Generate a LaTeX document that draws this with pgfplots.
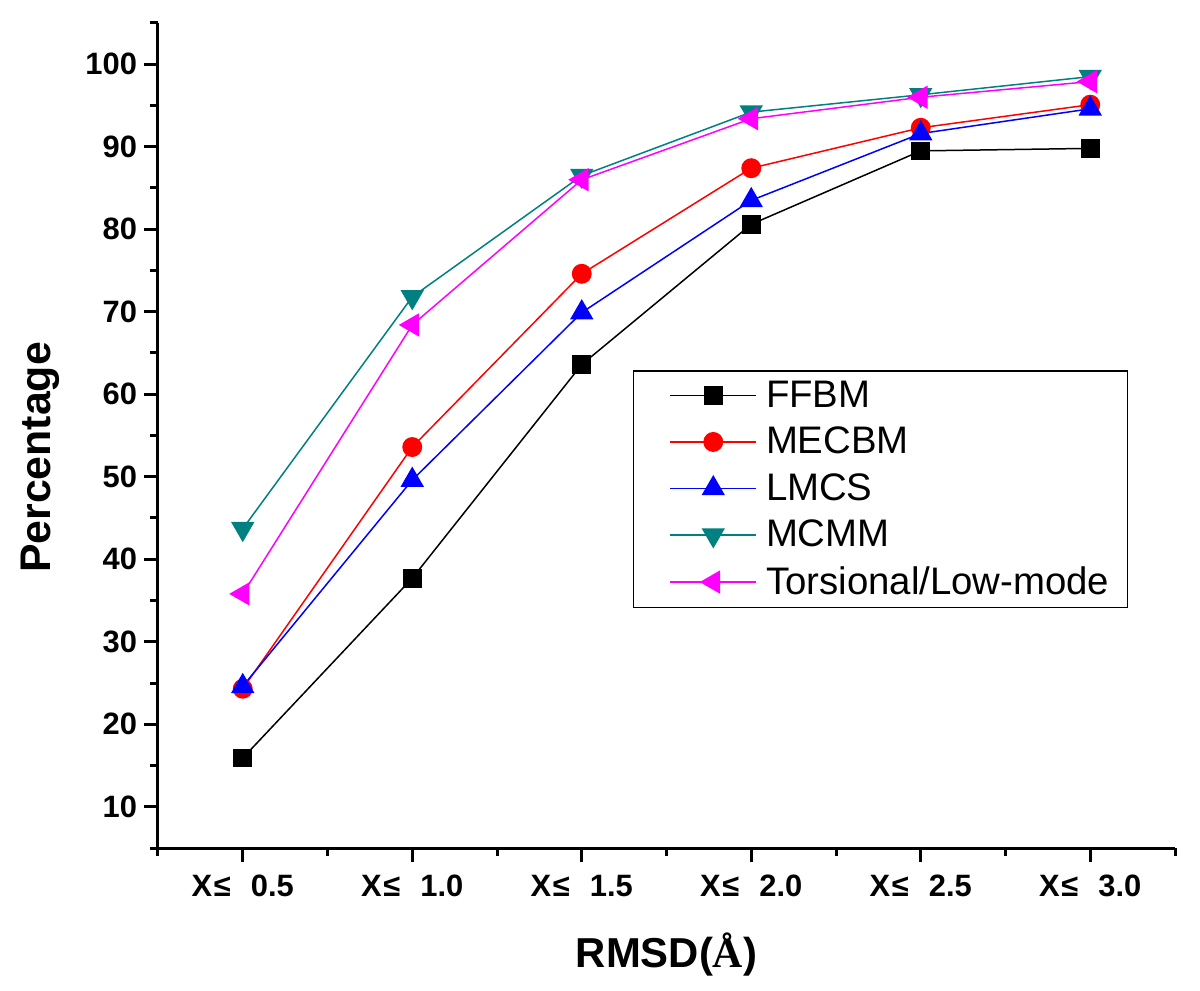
\documentclass[border=0pt]{standalone}
\usepackage{fontspec}
\setmainfont{Liberation Sans}
\newfontfamily\serifA{Liberation Serif}
\usepackage{pgfplots}
\pgfplotsset{compat=1.18}
\definecolor{mteal}{RGB}{0,128,128}
\definecolor{mmag}{RGB}{255,0,255}
\newcommand{\xle}[1]{X\kern0.05em≤\hspace{0.65em}#1}
\begin{document}
\begin{tikzpicture}
\begin{axis}[
  at={(0,0)}, anchor=south west,
  scale only axis,
  width=508.5bp, height=412.5bp,
  xmin=-0.5, xmax=5.5, ymin=5, ymax=105,
  axis x line*=bottom, axis y line*=left,
  axis line style={line width=1.5bp},
  xtick={0,1,2,3,4,5},
  xticklabels={\xle{0.5}, \xle{1.0}, \xle{1.5}, \xle{2.0}, \xle{2.5}, \xle{3.0}},
  minor xtick={-0.5,0.5,1.5,2.5,3.5,4.5,5.5},
  ytick={10,20,...,100},
  minor ytick={5,15,...,105},
  tick align=outside,
  major tick length=7bp, minor tick length=4bp,
  every tick/.style={black, line width=1.5bp},
  /pgf/number format/assume math mode=true,
  ticklabel style={font=\fontsize{15.5}{17}\selectfont\bfseries},
  xticklabel style={yshift=-3bp},
  xlabel={RMSD({\serifA Å})},
  ylabel={Percentage},
  xlabel style={font=\fontsize{21}{24}\selectfont\bfseries, at={(rel axis cs:0.5,0)}, anchor=center, yshift=-53.5bp},
  ylabel style={font=\fontsize{21.5}{24}\selectfont\bfseries, at={(rel axis cs:0,0.5)}, anchor=center, xshift=-11bp, yshift=59bp},
  legend style={at={(rel axis cs:0.467,0.579)}, anchor=north west,
    draw=black, line width=0.6bp, font=\fontsize{19.25}{22}\selectfont,
    row sep=4.4bp, inner xsep=7bp, inner ysep=3bp},
  legend cell align=left,
  legend image code/.code={\path (0bp,0bp) (56.5bp,0bp);\draw[mark repeat=2,mark phase=2] plot coordinates {(11bp,0bp)(32.5bp,0bp)(54bp,0bp)};},
  every axis plot/.append style={line width=0.75bp},
]
\addplot[black, mark=square*, mark size=4.3bp, mark options={solid, fill=black}] coordinates {
(0,15.9) (1,37.7) (2,63.6) (3,80.6) (4,89.5) (5,89.8)};
\addlegendentry{FFBM}
\addplot[red, mark=*, mark size=4.6bp, mark options={solid, fill=red}] coordinates {
(0,24.3) (1,53.6) (2,74.6) (3,87.4) (4,92.3) (5,95.1)};
\addlegendentry{MECBM}
\addplot[blue, mark=triangle*, mark size=6bp, mark options={solid, fill=blue}] coordinates {
(0,24.6) (1,49.6) (2,69.9) (3,83.5) (4,91.6) (5,94.6)};
\addlegendentry{LMCS}
\addplot[mteal, mark=triangle*, mark size=6bp, mark options={solid, fill=mteal, rotate=180}] coordinates {
(0,43.7) (1,71.8) (2,86.5) (3,94.2) (4,96.3) (5,98.5)};
\addlegendentry{MCMM}
\addplot[mmag, mark=triangle*, mark size=6bp, mark options={solid, fill=mmag, rotate=90}] coordinates {
(0,35.8) (1,68.4) (2,86.0) (3,93.4) (4,96.0) (5,97.9)};
\addlegendentry{Torsional/Low-mode}
\end{axis}
\pgfresetboundingbox
\path (-79bp,-71.5bp) rectangle (521bp,424bp);
\end{tikzpicture}
\end{document}
